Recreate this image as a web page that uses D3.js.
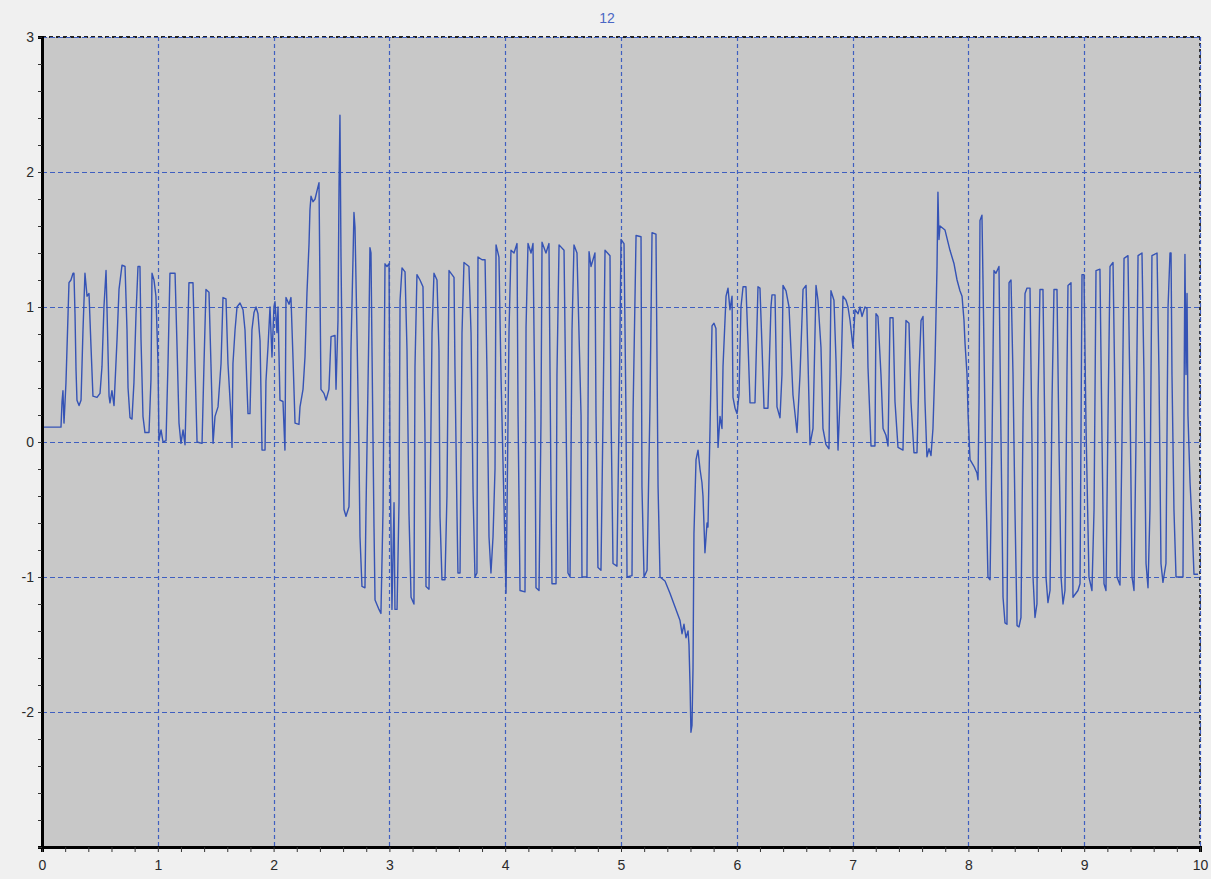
<!DOCTYPE html>
<html>
<head>
<meta charset="utf-8">
<script src="https://cdn.jsdelivr.net/npm/d3@7"></script>
<style>
  body { margin: 0; background: #f0f0f0; }
  svg { display: block; }
</style>
</head>
<body>
<div id="chart"></div>
<script>
// signal samples [time, value], split by section of the record
let startup = [
  [0, 0.11], [0.164, 0.11], [0.173, 0.30], [0.181, 0.38], [0.190, 0.14], [0.207, 0.44],
  [0.225, 0.95], [0.233, 1.18], [0.250, 1.20], [0.268, 1.25], [0.276, 1.25], [0.285, 0.95],
  [0.294, 0.53], [0.302, 0.31], [0.320, 0.27], [0.337, 0.31], [0.354, 0.83], [0.371, 1.25],
  [0.389, 1.08], [0.406, 1.10], [0.423, 0.71], [0.440, 0.34], [0.475, 0.33], [0.501, 0.36],
  [0.518, 0.56], [0.535, 1.00], [0.553, 1.27], [0.561, 1.00], [0.579, 0.34], [0.587, 0.29],
  [0.604, 0.38], [0.622, 0.27], [0.648, 0.76], [0.665, 1.13], [0.691, 1.31], [0.717, 1.30],
  [0.734, 0.83], [0.743, 0.40], [0.760, 0.18], [0.777, 0.17], [0.794, 0.44], [0.812, 0.95],
  [0.829, 1.30], [0.846, 1.30], [0.855, 0.76], [0.872, 0.19], [0.889, 0.07], [0.924, 0.07],
  [0.941, 0.46], [0.950, 1.25], [0.967, 1.20], [0.984, 1.08], [1.002, 0.58], [1.010, 0.01],
  [1.028, 0.09], [1.045, 0.00], [1.071, 0.01], [1.088, 0.58], [1.105, 1.25], [1.149, 1.25],
  [1.166, 0.71], [1.183, 0.14], [1.200, -0.01], [1.218, 0.09], [1.235, -0.02], [1.252, 0.58],
  [1.269, 1.18], [1.304, 1.18], [1.321, 0.58], [1.339, 0.00], [1.382, -0.01], [1.399, 0.58],
  [1.416, 1.13], [1.442, 1.11], [1.459, 0.58], [1.477, -0.01], [1.494, 0.19], [1.520, 0.26],
  [1.546, 0.58], [1.563, 1.07], [1.589, 1.06], [1.606, 0.58], [1.632, 0.19], [1.641, -0.04],
  [1.649, 0.58], [1.667, 0.83], [1.684, 1.00], [1.710, 1.03], [1.736, 0.98], [1.753, 0.83],
  [1.770, 0.41], [1.779, 0.21], [1.796, 0.21], [1.813, 0.83], [1.831, 0.96], [1.848, 1.00],
  [1.865, 0.95], [1.883, 0.75], [1.900, -0.06], [1.926, -0.06], [1.934, 0.45], [1.952, 0.71],
  [1.969, 1.00], [1.986, 0.63], [2.003, 1.00], [2.012, 1.04], [2.029, 0.81], [2.038, 1.00],
  [2.047, 0.63], [2.055, 0.31], [2.081, 0.30], [2.098, -0.06], [2.103, 0.53], [2.107, 1.07],
  [2.133, 1.02], [2.150, 1.07], [2.168, 0.61], [2.185, 0.14], [2.219, 0.13], [2.228, 0.26],
  [2.254, 0.39], [2.271, 0.63], [2.288, 1.10], [2.306, 1.47], [2.314, 1.72], [2.323, 1.82],
  [2.340, 1.78], [2.358, 1.80], [2.383, 1.89], [2.392, 1.92], [2.401, 1.10], [2.409, 0.39],
  [2.435, 0.36], [2.453, 0.31], [2.478, 0.39], [2.496, 0.78], [2.530, 0.79], [2.539, 0.39],
  [2.556, 0.90], [2.565, 1.89], [2.573, 2.42], [2.582, 1.37], [2.591, 0.70]
];

let burst1 = [
  [2.599, -0.06], [2.608, -0.50], [2.625, -0.55], [2.651, -0.48], [2.660, -0.06], [2.668, 0.68],
  [2.686, 1.37], [2.694, 1.70], [2.703, 1.59], [2.720, 0.81], [2.737, -0.06], [2.746, -0.70],
  [2.763, -1.07], [2.789, -1.08], [2.798, -0.50], [2.824, 0.90], [2.832, 1.44], [2.841, 1.40],
  [2.850, 0.66], [2.867, -0.63], [2.876, -1.17], [2.910, -1.24], [2.927, -1.27], [2.945, -0.50],
  [2.962, 1.32], [2.979, 1.30], [2.997, 1.32], [3.005, -0.04], [3.022, -1.24], [3.040, -0.45],
  [3.048, -1.24], [3.066, -1.24], [3.083, -0.45], [3.092, 1.05], [3.109, 1.29], [3.135, 1.26],
  [3.152, 0.68], [3.169, -0.53], [3.187, -1.15], [3.212, -1.20], [3.221, 0.56], [3.238, 1.24],
  [3.264, 1.20], [3.290, 1.15], [3.307, 0.07], [3.316, -1.07], [3.342, -1.09], [3.351, -0.50],
  [3.368, 0.81], [3.385, 1.25], [3.411, 1.20], [3.428, 0.68], [3.437, -0.55], [3.454, -1.02],
  [3.480, -1.02], [3.497, -0.40], [3.515, 1.27], [3.558, 1.22], [3.566, 0.56], [3.584, -0.55],
  [3.592, -0.97], [3.610, -0.97], [3.627, 0.81], [3.644, 1.33], [3.687, 1.30], [3.705, 0.81],
  [3.722, -0.35], [3.739, -1.00], [3.756, -0.97], [3.765, 1.37], [3.800, 1.35], [3.826, 1.35],
  [3.843, 0.50], [3.860, -0.70], [3.877, -0.97], [3.895, -0.70], [3.912, -0.20], [3.921, 1.46],
  [3.946, 1.37], [3.964, 0.48], [3.990, -0.48], [4.007, -1.12], [4.016, -0.48], [4.033, 0.83],
  [4.050, 1.42], [4.076, 1.40], [4.102, 1.47], [4.111, 0.19], [4.128, -1.10], [4.171, -1.11],
  [4.180, 0.85], [4.197, 1.47], [4.223, 1.40], [4.240, 1.47], [4.257, 0.20], [4.266, -1.08],
  [4.292, -1.10], [4.309, 0.15], [4.318, 1.48], [4.352, 1.40], [4.378, 1.47], [4.396, -0.41],
  [4.404, -1.05], [4.439, -1.05], [4.447, 0.50], [4.465, 1.46], [4.508, 1.42], [4.525, 0.20],
  [4.542, -0.97], [4.560, -1.00], [4.577, 0.83], [4.594, 1.46], [4.620, 1.40], [4.655, 0.20],
  [4.663, -1.00], [4.706, -1.00], [4.724, 1.41], [4.741, 1.30], [4.775, 1.40], [4.784, 0.21],
  [4.801, -0.93], [4.827, -0.95], [4.845, 0.21], [4.862, 1.42], [4.905, 1.38], [4.914, 0.21],
  [4.931, -0.90], [4.965, -0.92], [4.983, 0.16], [5.000, 1.50], [5.026, 1.47], [5.043, 0.21],
  [5.052, -1.00], [5.095, -0.99], [5.104, 0.21], [5.130, 1.53], [5.173, 1.52], [5.181, -0.33],
  [5.199, -1.00], [5.225, -0.95], [5.250, 0.26], [5.268, 1.55], [5.302, 1.54], [5.320, -0.33],
  [5.337, -1.00]
];

let dropout = [
  [5.380, -1.03], [5.423, -1.12], [5.466, -1.22], [5.509, -1.32], [5.527, -1.42], [5.544, -1.35],
  [5.561, -1.45], [5.579, -1.40], [5.587, -1.50], [5.596, -1.79], [5.604, -2.15], [5.613, -2.10],
  [5.622, -1.67], [5.630, -0.68], [5.648, -0.13], [5.665, -0.06], [5.682, -0.20], [5.699, -0.30],
  [5.708, -0.40], [5.725, -0.82], [5.743, -0.60], [5.751, -0.63], [5.769, 0.11], [5.786, 0.86],
  [5.803, 0.88], [5.820, 0.84], [5.829, 0.38], [5.838, -0.04], [5.855, 0.19], [5.872, 0.10],
  [5.881, 0.56], [5.907, 1.08], [5.924, 1.14], [5.941, 0.98], [5.959, 1.08], [5.967, 0.33],
  [5.985, 0.25]
];

let midBand = [
  [6.002, 0.21], [6.019, 0.35], [6.036, 1.00], [6.054, 1.15], [6.079, 1.15], [6.097, 0.73],
  [6.114, 0.29], [6.157, 0.29], [6.183, 1.15], [6.200, 1.14], [6.218, 0.70], [6.235, 0.25],
  [6.269, 0.25], [6.295, 1.00], [6.304, 1.09], [6.330, 1.09], [6.347, 0.26], [6.373, 0.18],
  [6.390, 0.50], [6.399, 1.16], [6.425, 1.12], [6.451, 1.00], [6.485, 0.35], [6.520, 0.07],
  [6.546, 0.50], [6.572, 1.13], [6.598, 1.16], [6.615, 0.60], [6.632, -0.02], [6.658, 0.10],
  [6.684, 1.16], [6.701, 1.05], [6.727, 0.70], [6.744, 0.10], [6.770, -0.02], [6.796, -0.05],
  [6.813, 1.12], [6.839, 1.05], [6.857, 0.60], [6.874, -0.06], [6.900, 0.50], [6.917, 1.08],
  [6.943, 1.05], [6.960, 1.00], [6.978, 0.90], [7.003, 0.70], [7.021, 0.98], [7.047, 0.95],
  [7.064, 1.00], [7.081, 0.93], [7.107, 1.00], [7.124, 0.99], [7.133, 0.55], [7.159, -0.03],
  [7.193, -0.03], [7.202, 0.95], [7.219, 0.93], [7.245, 0.50], [7.263, 0.10], [7.288, 0.05],
  [7.306, -0.03], [7.323, 0.92], [7.349, 0.92], [7.366, 0.30], [7.392, -0.04], [7.435, -0.06],
  [7.461, 0.90], [7.487, 0.88], [7.504, 0.30], [7.530, -0.08], [7.556, -0.08], [7.573, 0.50],
  [7.591, 0.90], [7.608, 0.93], [7.625, 0.30], [7.642, -0.11], [7.660, -0.05], [7.677, -0.10],
  [7.694, 0.10], [7.712, 0.60], [7.729, 1.30]
];

let recovery = [
  [7.737, 1.85], [7.746, 1.50], [7.755, 1.60], [7.798, 1.57], [7.841, 1.42], [7.876, 1.32],
  [7.902, 1.20], [7.927, 1.12], [7.945, 1.08], [7.962, 0.90], [7.971, 0.73], [7.988, 0.50],
  [7.997, 0.21], [8.014, -0.13], [8.048, -0.18], [8.074, -0.23], [8.083, -0.28], [8.092, 0.30]
];

let burst2 = [
  [8.100, 1.64], [8.117, 1.68], [8.126, 1.20], [8.143, 0.20], [8.152, -0.36], [8.169, -1.00],
  [8.187, -1.02], [8.204, 0.00], [8.221, 1.27], [8.238, 1.25], [8.264, 1.30], [8.282, 0.00],
  [8.299, -1.15], [8.316, -1.34], [8.333, -1.35], [8.342, -0.30], [8.351, 1.18], [8.368, 1.20],
  [8.385, 0.50], [8.402, -0.50], [8.420, -1.36], [8.437, -1.37], [8.454, -1.30], [8.472, 0.20],
  [8.489, 1.10], [8.506, 1.14], [8.532, 1.14], [8.549, 0.00], [8.558, -1.00], [8.575, -1.30],
  [8.592, -1.20], [8.601, 0.30], [8.618, 1.13], [8.644, 1.13], [8.661, 0.00], [8.670, -1.00],
  [8.687, -1.19], [8.705, -1.10], [8.722, 0.30], [8.739, 1.13], [8.765, 1.13], [8.782, 0.00],
  [8.800, -1.00], [8.817, -1.20], [8.834, -1.10], [8.851, 0.50], [8.860, 1.16], [8.886, 1.18],
  [8.895, 0.00], [8.903, -1.15], [8.946, -1.10], [8.964, -1.05], [8.981, 1.24], [8.998, 1.24],
  [9.016, 0.10], [9.041, -1.00], [9.067, -1.10], [9.085, -0.50], [9.102, 1.27], [9.136, 1.28],
  [9.154, 0.00], [9.171, -1.05], [9.188, -1.10], [9.206, 0.20], [9.223, 1.30], [9.249, 1.33],
  [9.266, 0.30], [9.283, -1.00], [9.309, -1.06], [9.326, 0.00], [9.344, 1.36], [9.378, 1.38],
  [9.396, 0.30], [9.413, -1.00], [9.430, -1.10], [9.447, 0.00], [9.465, 1.38], [9.499, 1.40],
  [9.516, 0.50], [9.534, -0.90], [9.551, -1.08], [9.568, -0.50], [9.585, 1.38], [9.629, 1.40],
  [9.646, 0.50], [9.663, -0.90], [9.680, -1.04], [9.706, -0.90], [9.724, 1.00], [9.741, 1.40],
  [9.750, 1.40], [9.758, 0.50], [9.775, -0.50], [9.793, -1.00], [9.853, -1.00], [9.870, 1.39],
  [9.879, 0.50], [9.888, 1.10], [9.896, 0.20], [9.914, -0.30], [9.931, -0.60], [9.948, -0.98],
  [9.983, -0.98]
];

let xTicks = [0, 1, 2, 3, 4, 5, 6, 7, 8, 9, 10];
let yTicks = [-2, -1, 0, 1, 2, 3];
let title = "12";

let width = 1211;
let height = 879;
let margin = { top: 37, right: 11, bottom: 32, left: 42 };
let gridColor = "#3f5fc0";

let signal = startup.concat(burst1, dropout, midBand, recovery, burst2);

let svg = d3.select("#chart").append("svg")
  .attr("width", width)
  .attr("height", height)
  .style("font-family", "'Liberation Sans', Arial, sans-serif");

svg.append("rect")
  .attr("width", width)
  .attr("height", height)
  .attr("fill", "#f0f0f0");

let x = d3.scaleLinear().domain([0, 10]).range([margin.left, width - margin.right]);
let y = d3.scaleLinear().domain([-3, 3]).range([height - margin.bottom, margin.top]);

// plot background
svg.append("rect")
  .attr("x", x(0))
  .attr("y", y(3))
  .attr("width", x(10) - x(0))
  .attr("height", y(-3) - y(3))
  .attr("fill", "#c8c8c8");

// right and top borders (dark dashes under the blue grid)
svg.append("line")
  .attr("x1", x(10)).attr("x2", x(10))
  .attr("y1", y(3)).attr("y2", y(-3))
  .attr("stroke", "#333").attr("stroke-width", 2)
  .attr("stroke-dasharray", "3,3");
svg.append("line")
  .attr("x1", x(0)).attr("x2", x(10))
  .attr("y1", y(3)).attr("y2", y(3))
  .attr("stroke", "#222").attr("stroke-width", 2)
  .attr("stroke-dasharray", "4,3");

// grid
svg.append("g").selectAll("line")
  .data(xTicks.filter(d => d > 0))
  .enter().append("line")
  .attr("x1", d => Math.round(x(d)) + 0.5).attr("x2", d => Math.round(x(d)) + 0.5)
  .attr("y1", y(3)).attr("y2", y(-3))
  .attr("stroke", gridColor)
  .attr("stroke-width", 1.2)
  .attr("stroke-dasharray", "4,3");

svg.append("g").selectAll("line")
  .data(yTicks)
  .enter().append("line")
  .attr("x1", x(0)).attr("x2", x(10))
  .attr("y1", d => Math.round(y(d)) + 0.5).attr("y2", d => Math.round(y(d)) + 0.5)
  .attr("stroke", gridColor)
  .attr("stroke-width", 1.2)
  .attr("stroke-dasharray", "5,3");

// signal line
svg.append("clipPath").attr("id", "plot-clip")
  .append("rect")
  .attr("x", x(0)).attr("y", y(3))
  .attr("width", x(10) - x(0)).attr("height", y(-3) - y(3));

let line = d3.line()
  .x(d => x(d[0]))
  .y(d => y(d[1]));

svg.append("path")
  .datum(signal)
  .attr("clip-path", "url(#plot-clip)")
  .attr("fill", "none")
  .attr("stroke", "#3553b5")
  .attr("stroke-width", 1.4)
  .attr("stroke-linejoin", "round")
  .attr("d", line);

// axes
let xAxis = d3.axisBottom(x)
  .tickValues(d3.range(0, 10.01, 0.2))
  .tickSize(5)
  .tickFormat(d => Math.abs(d - Math.round(d)) < 1e-6 ? Math.round(d) : "");

let yAxis = d3.axisLeft(y)
  .tickValues(d3.range(-3, 3.01, 0.2))
  .tickSize(4)
  .tickFormat(d => {
    let r = Math.round(d);
    return Math.abs(d - r) < 1e-6 && r > -3 ? r : "";
  });

let gx = svg.append("g")
  .attr("transform", "translate(0," + y(-3) + ")")
  .call(xAxis);
gx.select(".domain").attr("stroke", "#000").attr("stroke-width", 3);
gx.selectAll(".tick line").attr("stroke", "#333");
gx.selectAll(".tick text")
  .attr("y", 13)
  .attr("font-size", 14)
  .attr("fill", "#2a2a2a");

let gy = svg.append("g")
  .attr("transform", "translate(" + x(0) + ",0)")
  .call(yAxis);
gy.select(".domain").attr("stroke", "#000").attr("stroke-width", 3);
gy.selectAll(".tick line").attr("stroke", "#333");
gy.selectAll(".tick text")
  .attr("x", -8)
  .attr("font-size", 14)
  .attr("fill", "#2a2a2a");

// title
svg.append("text")
  .attr("x", 607)
  .attr("y", 23)
  .attr("text-anchor", "middle")
  .attr("font-size", 14)
  .attr("fill", "#4a66c4")
  .text(title);
</script>
</body>
</html>
